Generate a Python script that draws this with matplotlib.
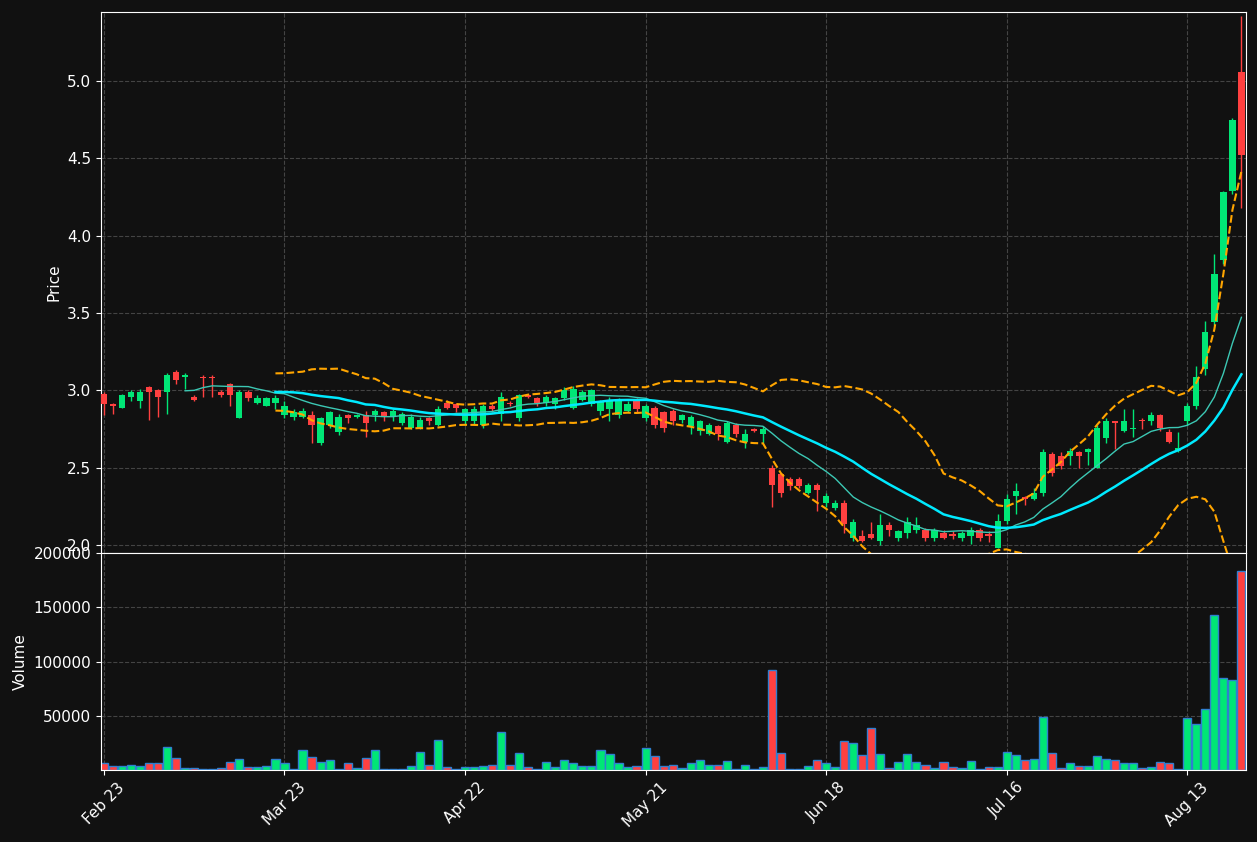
import numpy as np
import pandas as pd
import matplotlib
matplotlib.use("Agg")
import matplotlib.pyplot as plt

opens = [2.98,2.91,2.89,2.96,2.93,3.02,3.00,2.99,3.12,3.09,2.96,3.09,3.09,2.99,3.04,2.82,2.99,2.92,2.90,2.92,
         2.84,2.83,2.83,2.84,2.66,2.78,2.73,2.84,2.83,2.84,2.84,2.86,2.83,2.79,2.76,2.76,2.82,2.78,2.92,2.91,
         2.80,2.80,2.78,2.90,2.85,2.92,2.82,2.97,2.95,2.92,2.91,2.95,2.89,2.94,2.91,2.87,2.88,2.84,2.87,2.94,
         2.82,2.89,2.86,2.87,2.81,2.77,2.74,2.72,2.77,2.67,2.78,2.67,2.75,2.72,2.50,2.46,2.43,2.43,2.34,2.39,
         2.27,2.24,2.27,2.05,2.06,2.07,2.03,2.13,2.05,2.08,2.10,2.10,2.05,2.08,2.07,2.05,2.06,2.10,2.07,1.98,
         2.16,2.32,2.31,2.30,2.34,2.59,2.58,2.58,2.60,2.60,2.50,2.69,2.80,2.74,2.75,2.81,2.80,2.84,2.73,2.61,
         2.80,2.90,3.14,3.44,3.84,4.29,5.06]
closes = [2.91,2.90,2.97,2.99,2.99,2.99,2.96,3.10,3.07,3.10,2.94,3.08,3.08,2.97,2.97,2.99,2.95,2.95,2.95,2.95,
          2.90,2.86,2.87,2.78,2.82,2.86,2.83,2.82,2.84,2.79,2.87,2.83,2.87,2.85,2.83,2.81,2.80,2.88,2.89,2.89,
          2.88,2.88,2.90,2.88,2.96,2.91,2.97,2.96,2.92,2.96,2.95,3.00,3.01,2.99,3.00,2.93,2.94,2.94,2.91,2.88,
          2.90,2.78,2.76,2.80,2.84,2.83,2.80,2.78,2.72,2.79,2.72,2.72,2.74,2.75,2.39,2.34,2.38,2.38,2.39,2.36,
          2.32,2.27,2.14,2.15,2.03,2.05,2.13,2.10,2.09,2.15,2.13,2.05,2.10,2.05,2.06,2.08,2.10,2.05,2.06,2.16,
          2.30,2.35,2.30,2.34,2.60,2.47,2.51,2.61,2.58,2.62,2.76,2.80,2.79,2.80,2.76,2.80,2.84,2.76,2.67,2.63,
          2.90,3.09,3.38,3.75,4.28,4.75,4.52]
highs = [2.99,2.92,2.98,3.00,3.01,3.03,3.01,3.11,3.13,3.11,2.97,3.10,3.10,3.00,3.05,3.00,3.00,2.97,2.96,2.97,
         2.93,2.88,2.89,2.87,2.83,2.87,2.85,2.85,2.85,2.87,2.88,2.87,2.88,2.86,2.85,2.83,2.83,2.90,2.94,2.92,
         2.89,2.90,2.91,2.91,2.99,2.93,2.98,2.98,2.96,2.97,2.96,3.02,3.03,3.00,3.01,2.94,2.96,2.95,2.93,2.95,
         2.91,2.90,2.87,2.88,2.85,2.84,2.81,2.79,2.78,2.80,2.79,2.75,2.76,2.77,2.52,2.47,2.44,2.44,2.40,2.40,
         2.34,2.29,2.29,2.17,2.10,2.15,2.20,2.15,2.10,2.18,2.18,2.11,2.11,2.10,2.09,2.09,2.12,2.11,2.09,2.20,
         2.33,2.40,2.32,2.37,2.62,2.60,2.60,2.63,2.61,2.63,2.78,2.82,2.80,2.88,2.88,2.82,2.86,2.85,2.75,2.73,
         2.92,3.16,3.45,3.88,4.29,4.76,5.42]
lows = [2.84,2.85,2.89,2.93,2.89,2.81,2.83,2.85,3.04,3.01,2.93,2.96,2.96,2.96,2.90,2.82,2.93,2.91,2.90,2.88,
        2.82,2.81,2.82,2.66,2.65,2.76,2.71,2.79,2.82,2.70,2.80,2.80,2.80,2.78,2.75,2.75,2.78,2.77,2.88,2.86,
        2.78,2.78,2.76,2.86,2.80,2.90,2.80,2.95,2.90,2.90,2.88,2.94,2.88,2.93,2.90,2.84,2.80,2.82,2.86,2.86,
        2.80,2.76,2.73,2.78,2.79,2.72,2.71,2.71,2.68,2.66,2.70,2.63,2.73,2.66,2.25,2.31,2.36,2.37,2.33,2.22,
        2.25,2.23,2.08,2.03,2.02,2.04,2.00,2.06,2.03,2.05,2.08,2.03,2.03,2.04,2.04,2.03,2.01,2.03,2.02,1.98,
        2.14,2.20,2.26,2.29,2.32,2.45,2.49,2.52,2.50,2.52,2.50,2.66,2.62,2.73,2.70,2.75,2.78,2.74,2.66,2.60,
        2.78,2.88,3.10,3.42,3.82,4.27,4.18]
volumes = [6,4,4,5,4,6,6,21,11,2,2,1,1,2,7,10,3,3,4,10,6,1,18,12,7,9,1,6,2,11,18,1,1,0.5,4,17,5,28,3,1,
           3,3,4,5,35,5,16,3,1,7,3,9,6,4,4,18,15,6,3,4,20,13,4,5,2,6,9,5,5,8,1,5,1,3,92,16,1,1,4,9,
           6,3,27,25,14,39,15,2,7,15,7,5,2,7,3,2,8,1,3,3,17,14,9,10,49,16,2,6,4,4,13,10,9,6,6,2,3,7,6,0.5,
           48,42,56,143,85,83,183]
volumes = [v * 1000 for v in volumes]
tick_labels = ["Feb 23", "Mar 23", "Apr 22", "May 21", "Jun 18", "Jul 16", "Aug 13"]
tick_pos = [0, 20, 40, 60, 80, 100, 120]

df = pd.DataFrame(dict(o=opens, h=highs, l=lows, c=closes, v=volumes))
x = np.arange(len(df))
ma10 = df.c.rolling(10).mean()
ma20 = df.c.rolling(20).mean()
sd20 = df.c.rolling(20).std(ddof=0)
up_b = ma20 + 2 * sd20
lo_b = ma20 - 2 * sd20

BG = "#111111"
GREEN = "#00e676"
RED = "#ff4040"
fig = plt.figure(figsize=(12.57, 8.42), dpi=100, facecolor=BG)
ax = fig.add_axes([0.0803, 0.3432, 0.9109, 0.6425], facecolor=BG)
axv = fig.add_axes([0.0803, 0.0855, 0.9109, 0.2577], facecolor=BG, sharex=ax)

up = df.c >= df.o
cols = np.where(up, GREEN, RED)
ax.vlines(x, df.l, df.h, colors=cols, linewidth=1, zorder=2)
ax.bar(x, (df.c - df.o).abs().clip(lower=0.006), bottom=np.minimum(df.o, df.c),
       width=0.7, color=cols, zorder=3)
ax.plot(x, ma10, color="#3cc8b4", lw=1, zorder=4)
ax.plot(x, ma20, color="#00eaff", lw=1.8, zorder=4)
ax.plot(x, up_b, color="#ffa500", lw=1.5, ls="--", zorder=4)
ax.plot(x, lo_b, color="#ffa500", lw=1.5, ls="--", zorder=4)
ax.set_ylim(1.95, 5.445)
ax.set_xlim(-0.33, 126.5)
ax.set_ylabel("Price", color="white", fontsize=11)

axv.bar(x, df.v, width=0.9, color=cols, edgecolor="#2f7fd0", linewidth=1)
axv.set_ylim(0, 200000)
axv.set_yticks([50000, 100000, 150000, 200000])
axv.set_ylabel("Volume", color="white", fontsize=11)
axv.set_xticks(tick_pos)
axv.set_xticklabels(tick_labels, rotation=45, ha="center")
plt.setp(ax.get_xticklabels(), visible=False)

for a in (ax, axv):
    a.grid(True, color="#444444", ls="--", lw=0.8)
    a.set_axisbelow(True)
    a.tick_params(colors="white", labelsize=11)
    for s in a.spines.values():
        s.set_color("white")

fig.savefig("out.png", dpi=100, facecolor=BG)
